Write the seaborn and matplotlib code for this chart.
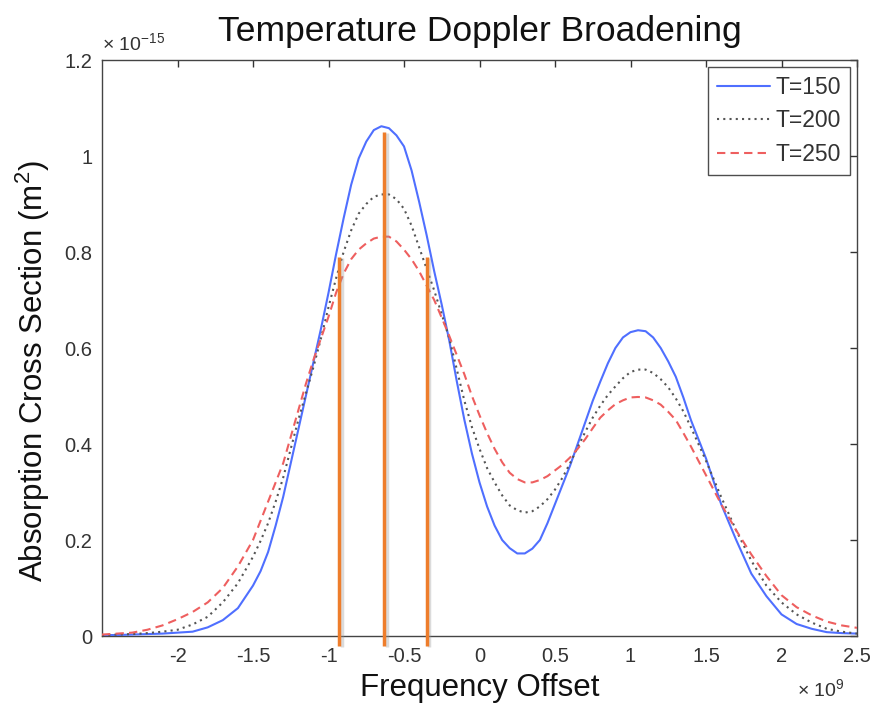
import matplotlib
matplotlib.use("Agg")
import matplotlib.pyplot as plt
import matplotlib.patheffects as pe
from matplotlib.lines import Line2D
import pandas as pd
import seaborn as sns

# ---- data ----
freq = [-2.5, -2.4, -2.3, -2.2, -2.1, -2.0, -1.9, -1.8, -1.7, -1.6, -1.5,
        -1.45, -1.4, -1.35, -1.3, -1.25, -1.2, -1.15, -1.1, -1.05, -1.0,
        -0.95, -0.9, -0.85, -0.8, -0.75, -0.7, -0.65, -0.6, -0.55, -0.5,
        -0.45, -0.4, -0.35, -0.3, -0.25, -0.2, -0.15, -0.1, -0.05, 0.0,
        0.05, 0.1, 0.15, 0.2, 0.25, 0.3, 0.35, 0.4, 0.45, 0.5,
        0.55, 0.6, 0.65, 0.7, 0.75, 0.8, 0.85, 0.9, 0.95, 1.0,
        1.05, 1.1, 1.15, 1.2, 1.25, 1.3, 1.35, 1.4, 1.45,
        1.5, 1.6, 1.7, 1.8, 1.9, 2.0, 2.1, 2.2, 2.3, 2.4, 2.5]

t150 = [0.002, 0.002, 0.003, 0.004, 0.005, 0.007, 0.009, 0.018, 0.033, 0.058, 0.105,
        0.135, 0.175, 0.23, 0.29, 0.36, 0.43, 0.50, 0.57, 0.64, 0.715,
        0.795, 0.87, 0.94, 0.995, 1.03, 1.054, 1.062, 1.058, 1.043, 1.02,
        0.97, 0.905, 0.835, 0.76, 0.69, 0.615, 0.53, 0.45, 0.38, 0.32,
        0.27, 0.23, 0.20, 0.183, 0.172, 0.172, 0.182, 0.20, 0.235, 0.275,
        0.315, 0.355, 0.40, 0.445, 0.49, 0.53, 0.568, 0.60, 0.622, 0.633,
        0.637, 0.635, 0.622, 0.60, 0.572, 0.54, 0.497, 0.45, 0.41,
        0.37, 0.275, 0.20, 0.13, 0.083, 0.045, 0.025, 0.015, 0.008, 0.006, 0.005]

t200 = [0.002, 0.003, 0.004, 0.006, 0.009, 0.013, 0.024, 0.04, 0.07, 0.11, 0.165,
        0.198, 0.235, 0.28, 0.33, 0.39, 0.45, 0.505, 0.56, 0.62, 0.685,
        0.745, 0.80, 0.845, 0.88, 0.90, 0.915, 0.92, 0.92, 0.91, 0.89,
        0.855, 0.81, 0.765, 0.72, 0.67, 0.62, 0.555, 0.49, 0.435, 0.39,
        0.35, 0.32, 0.293, 0.272, 0.262, 0.257, 0.26, 0.27, 0.285, 0.305,
        0.33, 0.36, 0.393, 0.425, 0.455, 0.48, 0.502, 0.52, 0.537, 0.55,
        0.555, 0.555, 0.548, 0.535, 0.518, 0.495, 0.468, 0.435, 0.40,
        0.365, 0.29, 0.22, 0.157, 0.105, 0.07, 0.045, 0.028, 0.015, 0.009, 0.005]

t250 = [0.003, 0.005, 0.007, 0.013, 0.022, 0.035, 0.05, 0.07, 0.10, 0.145, 0.20,
        0.24, 0.28, 0.32, 0.36, 0.415, 0.47, 0.525, 0.575, 0.62, 0.665,
        0.715, 0.755, 0.785, 0.805, 0.818, 0.828, 0.832, 0.832, 0.822, 0.805,
        0.785, 0.76, 0.73, 0.70, 0.663, 0.625, 0.585, 0.545, 0.50, 0.46,
        0.423, 0.39, 0.362, 0.34, 0.327, 0.32, 0.32, 0.325, 0.333, 0.345,
        0.357, 0.372, 0.39, 0.41, 0.433, 0.455, 0.47, 0.483, 0.491, 0.497,
        0.498, 0.497, 0.491, 0.482, 0.467, 0.45, 0.423, 0.395, 0.365,
        0.335, 0.275, 0.22, 0.17, 0.125, 0.085, 0.06, 0.043, 0.03, 0.022, 0.017]

series_labels = ["T=150", "T=200", "T=250"]

marker_x = [-0.93, -0.63, -0.35]
marker_top = [0.79, 1.05, 0.79]

xtick_vals = [-2, -1.5, -1, -0.5, 0, 0.5, 1, 1.5, 2, 2.5]
xtick_labels = ["-2", "-1.5", "-1", "-0.5", "0", "0.5", "1", "1.5", "2", "2.5"]
ytick_vals = [0, 0.2, 0.4, 0.6, 0.8, 1.0, 1.2]
ytick_labels = ["0", "0.2", "0.4", "0.6", "0.8", "1", "1.2"]

# ---- style ----
sns.set_style("white")
plt.rcParams["font.family"] = ["Liberation Sans", "DejaVu Sans"]
plt.rcParams["mathtext.fontset"] = "custom"
plt.rcParams["mathtext.rm"] = "Liberation Sans"
plt.rcParams["mathtext.it"] = "Liberation Sans:italic"
plt.rcParams["axes.unicode_minus"] = False

fig = plt.figure(figsize=(8.72, 7.08), dpi=100)
ax = fig.add_axes([102 / 872, 1 - 636 / 708, (857 - 102) / 872, (636 - 60) / 708])

styles = [
    dict(color="#4f6fff", linestyle="-", linewidth=1.5),
    dict(color="#555555", linestyle=(0, (1, 2)), linewidth=1.5),
    dict(color="#ee5f5f", linestyle=(0, (4, 2.5)), linewidth=1.5),
]
for vals, lab, st in zip([t150, t200, t250], series_labels, styles):
    df = pd.DataFrame({"freq": freq, "sigma": vals})
    sns.lineplot(data=df, x="freq", y="sigma", ax=ax, legend=False,
                 zorder=3, **st)

# orange annotation lines
ax.vlines(marker_x, -0.02, marker_top, colors="#ee7d2b", linewidth=2.5,
          zorder=5, clip_on=False,
          path_effects=[pe.SimpleLineShadow(offset=(2, -1), shadow_color="#999999", alpha=0.35),
                        pe.Normal()])

ax.set_xlim(-2.5, 2.5)
ax.set_ylim(0, 1.2)
ax.set_xticks(xtick_vals)
ax.set_xticklabels(xtick_labels)
ax.set_yticks(ytick_vals)
ax.set_yticklabels(ytick_labels)

ax.tick_params(direction="in", length=5, width=1, colors="#333333",
               labelsize=14.5, top=True, right=True, labelcolor="#333333")
ax.tick_params(axis="x", pad=8)
ax.tick_params(axis="y", pad=7)
for s in ax.spines.values():
    s.set_visible(True)
    s.set_color("#444444")
    s.set_linewidth(1.0)

ax.set_xlabel("Frequency Offset", fontsize=22.5, color="#111111", labelpad=5)
ax.set_ylabel("Absorption Cross Section (m$^{2}$)", fontsize=22.5, color="#111111")
ax.yaxis.set_label_coords(-0.066, 0.46)
ax.set_title("Temperature Doppler Broadening", fontsize=25.5, color="#111111", pad=14)

# exponent annotations
ax.text(0.0, 1.01, "× 10$^{-15}$", transform=ax.transAxes, fontsize=14,
        color="#333333", ha="left", va="bottom")
fig.text(797 / 872, 1 - 700 / 708, "× 10$^{9}$", fontsize=14, color="#333333",
         ha="left", va="bottom")

handles = [Line2D([], [], **st) for st in styles]
leg = ax.legend(handles, series_labels, loc="upper right", fontsize=16.5,
                frameon=True, fancybox=False, shadow=False, edgecolor="#222222",
                handlelength=2.3, handletextpad=0.25, labelspacing=0.45,
                borderaxespad=0.3, borderpad=0.4)
leg.get_frame().set_linewidth(1.0)
for t in leg.get_texts():
    t.set_color("#333333")

fig.savefig("out.png", dpi=100, facecolor="white")
